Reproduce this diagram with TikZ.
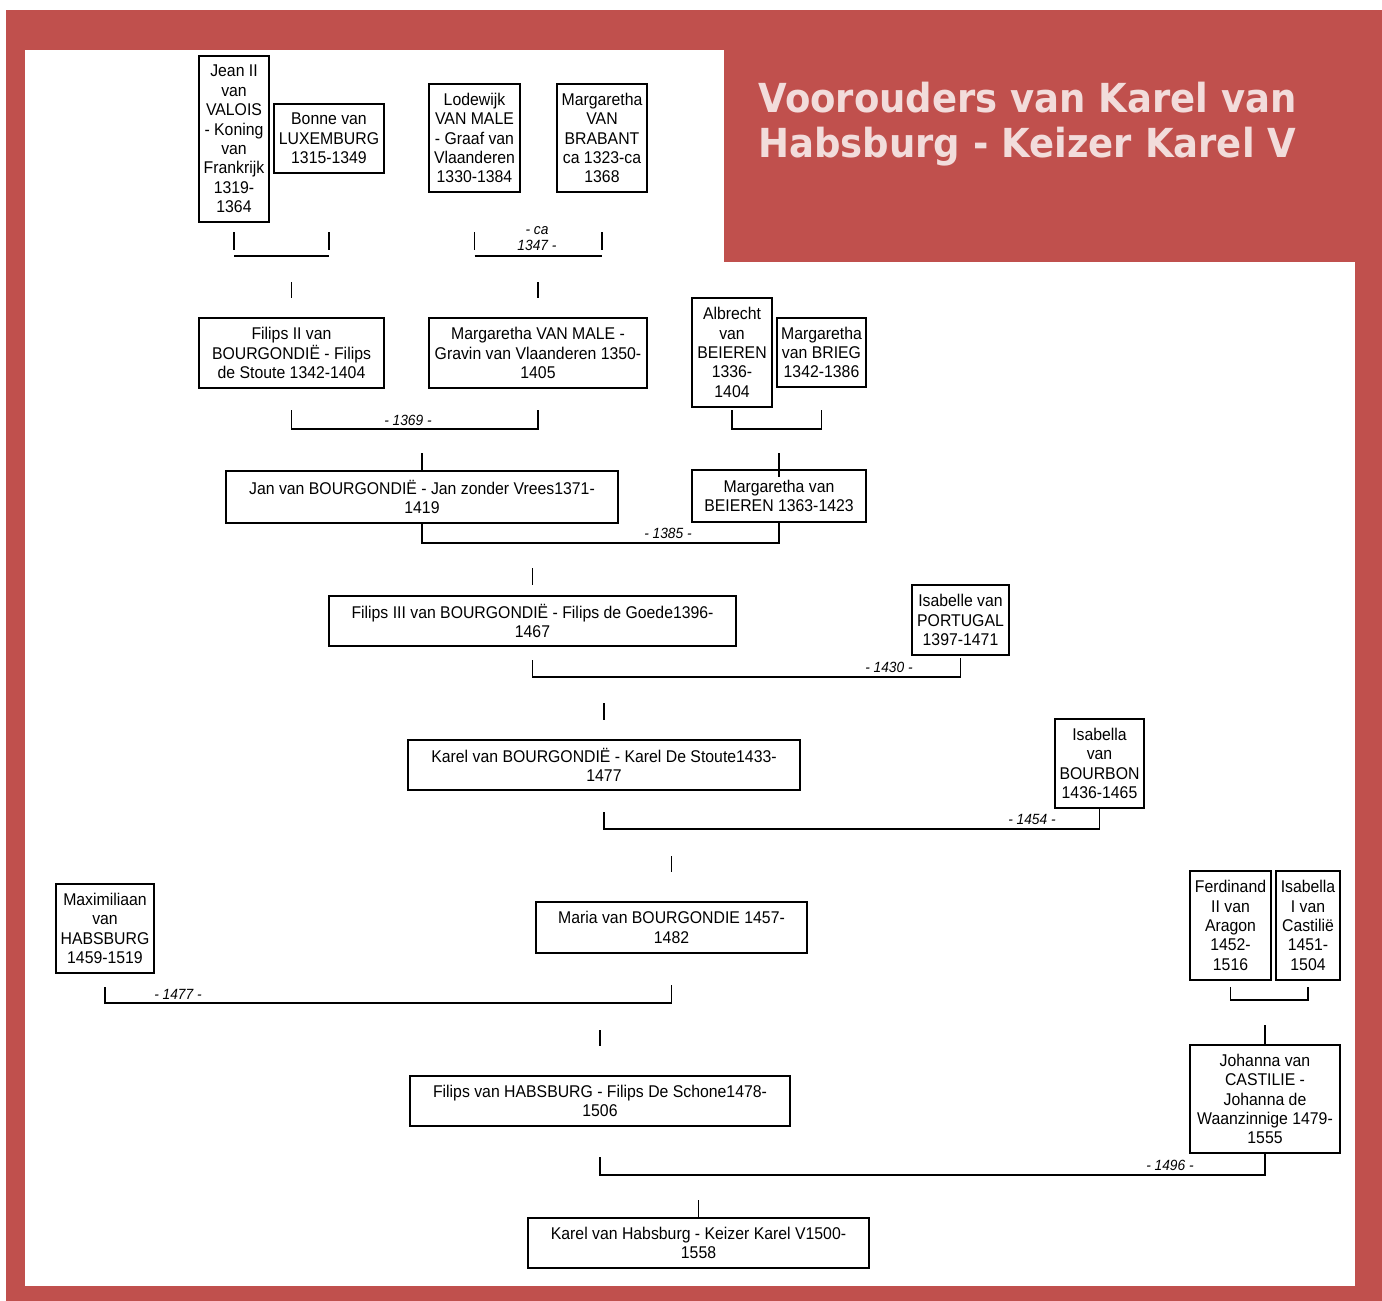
\documentclass[tikz,border=0pt]{standalone}
\usepackage{fontspec}
\setmainfont{Liberation Sans}[FakeStretch=0.93]
\newfontfamily\titlefont{DejaVu Sans}[FakeStretch=0.925]
\definecolor{frame}{HTML}{C0504D}
\definecolor{titletext}{HTML}{F2DCDB}
\begin{document}
\begin{tikzpicture}[x=0.5pt,y=-0.5pt,
  pbox/.style={draw, line width=1pt, align=center, inner sep=0pt,
    font=\fontsize{8.5}{9.7}\selectfont},
  conn/.style={line width=0.7pt},
  yr/.style={font=\fontsize{7.4}{8}\selectfont\itshape, inner sep=0.5pt, fill=white, align=center},
  ttl/.style={anchor=base west, inner sep=0pt, text=titletext,
    font=\titlefont\bfseries\fontsize{20}{22.5}\selectfont}]
\newcommand{\pb}[6]{\node[pbox, minimum width={(#4-#2)*0.5pt}, minimum height={(#5-#3)*0.5pt}] (#1) at ({(#2+#4)/2},{(#3+#5)/2}) {#6};}
\useasboundingbox (0,0) rectangle (1382,1301);
\fill[white] (0,0) rectangle (1382,1301);
\fill[frame] (6,10) rectangle (1382,1301);
\fill[white] (25,50) rectangle (1355,1286);
\fill[frame] (724,50) rectangle (1355,262);
\node[ttl] (t1) at (758,112) {Voorouders van Karel van};
\node[ttl] (t2) at (758,157) {Habsburg - Keizer Karel V};
% generation 1
\pb{jean}{199}{56}{269}{222}{Jean II\\van\\VALOIS\\- Koning\\van\\Frankrijk\\1319-\\1364}
\pb{bonne}{274}{104}{384}{173}{Bonne van\\LUXEMBURG\\1315-1349}
\pb{lode}{429}{84}{520}{192}{Lodewijk\\VAN MALE\\- Graaf van\\Vlaanderen\\1330-1384}
\pb{mbra}{557}{84}{647}{192}{Margaretha\\VAN\\BRABANT\\ca 1323-ca\\1368}
% generation 2
\pb{fil2}{199}{318}{384}{388}{Filips II van\\BOURGONDIË - Filips\\de Stoute 1342-1404}
\pb{mvm}{429}{318}{647}{388}{Margaretha VAN MALE -\\Gravin van Vlaanderen 1350-\\1405}
\pb{albr}{692}{298}{772}{407}{Albrecht\\van\\BEIEREN\\1336-\\1404}
\pb{brieg}{777}{318}{866}{387}{Margaretha\\van BRIEG\\1342-1386}
% generation 3
\pb{jan}{226}{471}{618}{523}{Jan van BOURGONDIË - Jan zonder Vrees1371-\\1419}
\pb{mbei}{692}{470}{866}{522}{Margaretha van\\BEIEREN 1363-1423}
% generation 4
\pb{fil3}{329}{596}{736}{646}{Filips III van BOURGONDIË - Filips de Goede1396-\\1467}
\pb{ipor}{912}{585}{1009}{655}{Isabelle van\\PORTUGAL\\1397-1471}
% generation 5
\pb{karel}{408}{740}{800}{790}{Karel van BOURGONDIË - Karel De Stoute1433-\\1477}
\pb{ibou}{1055}{719}{1144}{808}{Isabella\\van\\BOURBON\\1436-1465}
% generation 6
\pb{maria}{536}{902}{807}{953}{Maria van BOURGONDIE 1457-\\1482}
\pb{maxi}{56}{884}{154}{973}{Maximiliaan\\van\\HABSBURG\\1459-1519}
\pb{ferd}{1190}{871}{1271}{980}{Ferdinand\\II van\\Aragon\\1452-\\1516}
\pb{isab}{1276}{871}{1340}{980}{Isabella\\I van\\Castilië\\1451-\\1504}
% generation 7
\pb{filh}{410}{1076}{790}{1126}{Filips van HABSBURG - Filips De Schone1478-\\1506}
\pb{joha}{1190}{1045}{1340}{1153}{Johanna van\\CASTILIE -\\Johanna de\\Waanzinnige 1479-\\1555}
% generation 8
\pb{karv}{528}{1218}{869}{1268}{Karel van Habsburg - Keizer Karel V1500-\\1558}
% level coordinates
\coordinate (a1) at (0,232); \coordinate (a2) at (0,250); \coordinate (a3) at (0,256);
\coordinate (a4) at (0,282); \coordinate (a5) at (0,298);
\coordinate (b1) at (0,410); \coordinate (b2) at (0,429);
\coordinate (b3) at (0,453);
\coordinate (c1) at (0,543); \coordinate (c2) at (0,568);
\coordinate (d1) at (0,660); \coordinate (d2) at (0,677); \coordinate (d3) at (0,658); \coordinate (d4) at (0,703);
\coordinate (e1) at (0,812); \coordinate (e2) at (0,829); \coordinate (e3) at (0,856);
\coordinate (f1) at (0,987); \coordinate (f2) at (0,1003); \coordinate (f3) at (0,985);
\coordinate (f4) at (0,1000); \coordinate (f5) at (0,1025); \coordinate (f6) at (0,1030);
\coordinate (g1) at (0,1157); \coordinate (g2) at (0,1175); \coordinate (g3) at (0,1200);
\begin{scope}[conn]
% Jean + Bonne
\draw (jean.south |- a1) -- (jean.south |- a2);
\draw (bonne.south |- a1) -- (bonne.south |- a2);
\draw (jean.south |- a3) -- (bonne.south |- a3);
\draw (fil2.north |- a4) -- (fil2.north |- a5);
% Lodewijk + Margaretha
\draw (lode.south |- a1) -- (lode.south |- a2);
\draw (mbra.south |- a1) -- (mbra.south |- a2);
\draw (lode.south |- a3) -- (mbra.south |- a3);
\draw (mvm.north |- a4) -- (mvm.north |- a5);
% Filips II + Margaretha van Male
\draw (fil2.south |- b1) -- (fil2.south |- b2) -- (mvm.south |- b2) -- (mvm.south |- b1);
\draw (albr.south |- b1) -- (albr.south |- b2) -- (brieg.south |- b2) -- (brieg.south |- b1);
\draw (jan.north |- b3) -- (jan.north);
\draw (mbei.north |- b3) -- ([yshift=-4pt]mbei.north);
% Jan + Margaretha van Beieren
\draw (jan.south) -- (jan.south |- c1) -- (mbei.south |- c1) -- (mbei.south);
\draw (fil3.north |- c2) -- ([yshift=5pt]fil3.north);
% Filips III + Isabelle
\draw (fil3.south |- d1) -- (fil3.south |- d2) -- (ipor.south |- d2) -- (ipor.south |- d3);
\draw (karel.north |- d4) -- ([yshift=9.5pt]karel.north);
% Karel + Isabella
\draw (karel.south |- e1) -- (karel.south |- e2) -- (ibou.south |- e2) -- (ibou.south);
\draw (maria.north |- e3) -- ([yshift=14.5pt]maria.north);
% Maximiliaan + Maria
\draw (maxi.south |- f1) -- (maxi.south |- f2) -- (maria.south |- f2) -- (maria.south |- f3);
\draw (ferd.south |- f1) -- (ferd.south |- f4) -- (isab.south |- f4) -- (isab.south |- f1);
\draw (joha.north |- f5) -- (joha.north);
\draw (filh.north |- f6) -- ([yshift=14.5pt]filh.north);
% Filips + Johanna
\draw (filh.south |- g1) -- (filh.south |- g2) -- (joha.south |- g2) -- (joha.south);
\draw (karv.north |- g3) -- (karv.north);
\end{scope}
% year labels
\node[yr, fill=none] (y1347) at (537,239) {- ca\\1347 -};
\node[yr] (y1369) at (408,420) {- 1369 -};
\node[yr] (y1385) at (668,533) {- 1385 -};
\node[yr] (y1430) at (889,667) {- 1430 -};
\node[yr] (y1454) at (1032,819) {- 1454 -};
\node[yr] (y1477) at (178,994) {- 1477 -};
\node[yr] (y1496) at (1170,1165) {- 1496 -};
\end{tikzpicture}
\end{document}
